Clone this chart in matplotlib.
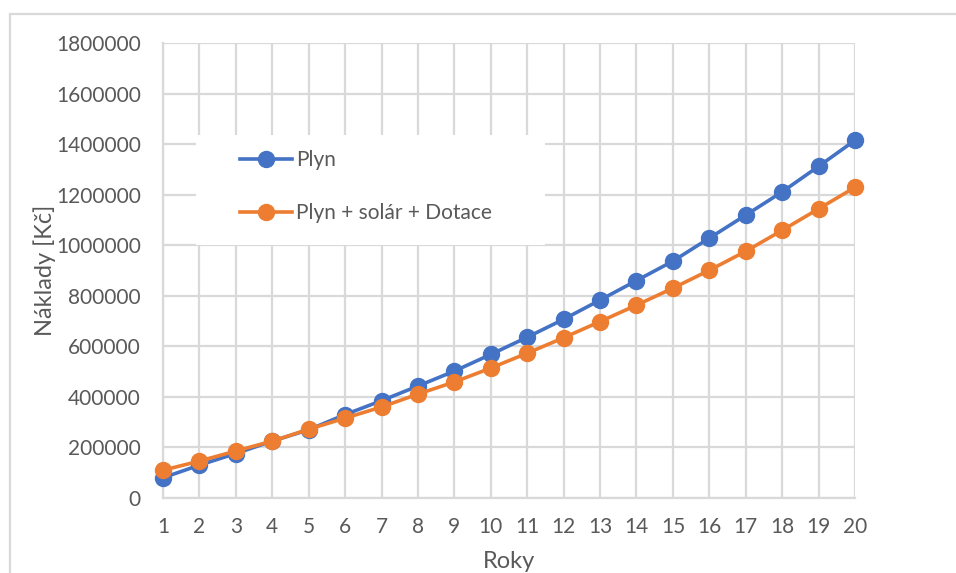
import matplotlib
matplotlib.use("Agg")
import matplotlib.pyplot as plt
from matplotlib.patches import Rectangle
from matplotlib.lines import Line2D

# costs over 20 years, gas only vs gas + solar with subsidy
years = list(range(1, 21))
plyn = [80000, 130000, 176000, 225000, 270000, 330000, 385000, 443000, 502000, 568000,
        636000, 707000, 783000, 860000, 937000, 1028000, 1119000, 1211000, 1312000, 1415000]
plyn_solar = [110000, 146000, 186000, 225000, 272000, 316000, 360000, 411000, 459000, 514000,
              573000, 634000, 698000, 763000, 830000, 901000, 976000, 1059000, 1144000, 1229000]
y_ticks = list(range(0, 1800001, 200000))

plt.rcParams['font.family'] = ['Lato', 'DejaVu Sans']
text_color = '#595959'
grid_color = '#D9D9D9'

fig = plt.figure(figsize=(9.56, 5.73), dpi=100)
ax = fig.add_axes([163 / 956, 1 - 498 / 573, (855 - 163) / 956, (498 - 43) / 573])

ax.plot(years, plyn, color='#4472C4', lw=2.6, marker='o', ms=11.5,
        label='Plyn', clip_on=False, zorder=3)
ax.plot(years, plyn_solar, color='#ED7D31', lw=2.6, marker='o', ms=11.5,
        label='Plyn + solár + Dotace', clip_on=False, zorder=4)

ax.set_xlim(1, 20)
ax.set_ylim(0, 1800000)
ax.set_xticks(years)
ax.set_yticks(y_ticks)
ax.set_yticklabels([str(v) for v in y_ticks])
ax.tick_params(axis='both', length=0, labelsize=15, labelcolor=text_color)
ax.tick_params(axis='y', pad=16)
ax.tick_params(axis='x', pad=14)

ax.set_axisbelow(True)
ax.grid(True, color=grid_color, lw=1.6)
for side in ['top', 'right']:
    ax.spines[side].set_visible(False)
for side in ['left', 'bottom']:
    ax.spines[side].set_color(grid_color)
    ax.spines[side].set_linewidth(1.6)

ax.set_xlabel('Roky', fontsize=17, color=text_color, labelpad=10)
ax.set_ylabel('Náklady [Kč]', fontsize=17, color=text_color, labelpad=0)

# white backdrop behind the legend, hiding the grid
ax.add_patch(Rectangle((196 / 956, 1 - 245 / 573), (545 - 196) / 956, 110 / 573,
                       transform=fig.transFigure, facecolor='white', edgecolor='none',
                       zorder=1, clip_on=False))
ax.legend(loc='upper left', bbox_to_anchor=(240 / 956, 1 - 150 / 573),
          bbox_transform=fig.transFigure, frameon=False, fontsize=15,
          labelcolor=text_color, handlelength=2.5, handletextpad=0.2,
          labelspacing=1.6, borderpad=0, borderaxespad=0)

# chart border
fig.add_artist(Line2D([10 / 956, 10 / 956], [0, 1 - 14 / 573], color=grid_color, lw=1.6))
fig.add_artist(Line2D([10 / 956, 1], [1 - 14 / 573, 1 - 14 / 573], color=grid_color, lw=1.6))

fig.savefig('out.png', dpi=100)
